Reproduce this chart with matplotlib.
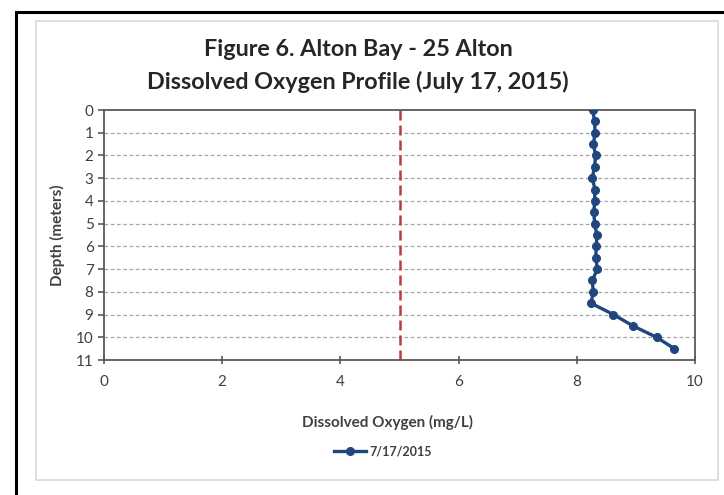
import matplotlib
matplotlib.use("Agg")
import matplotlib.pyplot as plt
from matplotlib.patches import Rectangle

plt.rcParams['font.family'] = ['Lato', 'DejaVu Sans']

# depth profile
depth = [0, 0.5, 1, 1.5, 2, 2.5, 3, 3.5, 4, 4.5, 5, 5.5, 6, 6.5, 7, 7.5,
         8, 8.5, 9, 9.5, 10, 10.5]
oxygen = [8.27, 8.30, 8.31, 8.28, 8.32, 8.30, 8.26, 8.31, 8.30, 8.29, 8.30,
          8.34, 8.33, 8.32, 8.35, 8.26, 8.28, 8.24, 8.62, 8.95, 9.35, 9.65]
series_label = "7/17/2015"
threshold = 5
x_ticks = [0, 2, 4, 6, 8, 10]
y_ticks = list(range(0, 12))

W, H = 724, 495
fig = plt.figure(figsize=(W / 100, H / 100), dpi=100)

# outer black frame (runs off right and bottom) and inner light chart border
fig.patches.append(Rectangle((16 / W, -0.2), 1.2, 1.2 - 12 / H, transform=fig.transFigure,
                             fill=False, edgecolor='black', linewidth=2.2))
fig.patches.append(Rectangle((36 / W, (H - 480) / H), (718 - 36) / W, (480 - 21) / H,
                             transform=fig.transFigure, fill=False,
                             edgecolor='#d9d9d9', linewidth=1.2))

ax = fig.add_axes([104 / W, (H - 360) / H, (695 - 104) / W, (360 - 110) / H])

ax.axvline(threshold, color='#c0393b', linestyle=(0, (4, 2)), linewidth=1.8, zorder=2)
ax.plot(oxygen, depth, color='#1f477d', linewidth=2.4, marker='o', markersize=5.5,
        label=series_label, zorder=3)

ax.set_xlim(0, 10)
ax.set_ylim(11, 0)
ax.set_xticks(x_ticks)
ax.set_yticks(y_ticks)
for d in y_ticks[1:-1]:
    ax.axhline(d, color='#a6a6a6', linestyle=(0, (3, 2)), linewidth=0.9, zorder=1)

for s in ax.spines.values():
    s.set_color('#595959')
    s.set_linewidth(1.3)
ax.tick_params(axis='both', colors='#595959', labelcolor='#404040', labelsize=11,
               length=4, width=1.2)
ax.tick_params(axis='x', direction='inout', length=6, pad=8)

ax.set_xlabel("Dissolved Oxygen (mg/L)", fontsize=11, fontweight='bold', color='#404040')
ax.xaxis.set_label_coords((388 - 104) / (695 - 104), -(415 - 360) / (360 - 110))
ax.set_ylabel("Depth (meters)", fontsize=11, fontweight='bold', color='#404040',
              labelpad=8)

fig.text(358 / W, 1 - 50 / H, "Figure 6. Alton Bay - 25 Alton", ha='center', va='center',
         fontsize=16.8, fontweight='bold', color='#262626')
fig.text(358 / W, 1 - 82 / H, "Dissolved Oxygen Profile (July 17, 2015)", ha='center',
         va='center', fontsize=16.8, fontweight='bold', color='#262626')

fig.legend(loc='center', bbox_to_anchor=(383 / W, 1 - 451 / H), frameon=False,
           prop={'size': 9, 'weight': 'bold'}, handlelength=2.6, handletextpad=0.3,
           labelcolor='#404040')

fig.savefig("out.png", dpi=100)
